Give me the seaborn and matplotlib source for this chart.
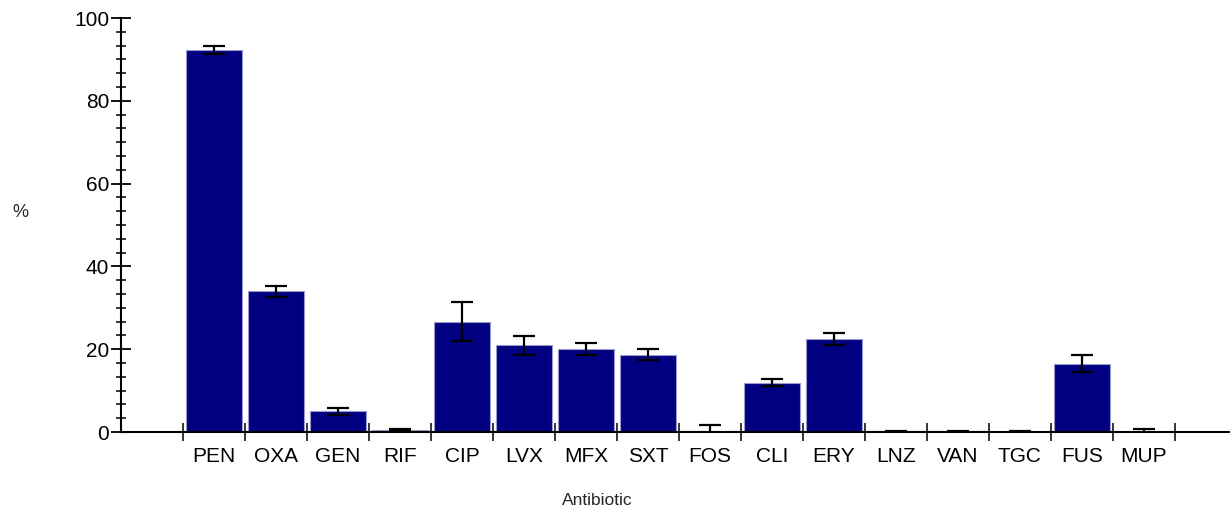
import matplotlib
matplotlib.use('Agg')
import matplotlib.pyplot as plt
import numpy as np
import pandas as pd
import seaborn as sns
from matplotlib.ticker import MultipleLocator

# Resistance per antibiotic (% with error)
antibiotics = ['PEN', 'OXA', 'GEN', 'RIF', 'CIP', 'LVX', 'MFX', 'SXT',
               'FOS', 'CLI', 'ERY', 'LNZ', 'VAN', 'TGC', 'FUS', 'MUP']
percent = [92.2, 34.0, 5.0, 0.5, 26.6, 21.0, 20.1, 18.7,
           0.3, 11.9, 22.4, 0.2, 0.2, 0.05, 16.5, 0.1]
err = [1.0, 1.3, 0.8, 0.3, 4.7, 2.3, 1.4, 1.4,
       1.3, 0.8, 1.5, 0.15, 0.15, 0.15, 2.0, 0.6]

df = pd.DataFrame({'Antibiotic': antibiotics, 'pct': percent, 'err': err})

sns.set_style('white')
plt.rcParams['font.family'] = ['Liberation Sans', 'DejaVu Sans']

fig = plt.figure(figsize=(12.3, 5.12), dpi=100)
ax = fig.add_axes([121 / 1230, 80 / 512, 1 - 121 / 1230, 414 / 512])

sns.barplot(data=df, x='Antibiotic', y='pct', color='#000080', saturation=1,
            width=0.9, edgecolor='#9a9ad0', linewidth=0.8, errorbar=None, ax=ax)
ax.errorbar(np.arange(len(antibiotics)), df['pct'], yerr=df['err'], fmt='none',
            ecolor='black', elinewidth=1.6, capsize=8, capthick=1.6, zorder=3)

ax.set_ylim(0, 100)
ax.set_xlim(-1.5, 16.39)
sns.despine(ax=ax)
for s in ['left', 'bottom']:
    ax.spines[s].set_linewidth(1.5)
    ax.spines[s].set_color('black')

ax.yaxis.set_major_locator(MultipleLocator(20))
ax.yaxis.set_minor_locator(MultipleLocator(20 / 6))
ax.tick_params(axis='y', which='major', direction='inout', length=14,
               width=1.3, pad=1.5, labelsize=15, colors='black', left=True)
ax.tick_params(axis='y', which='minor', direction='inout', length=6.5,
               width=1.3, left=True)

# boundaries get the tick marks, centres get the labels
ax.set_xticks(np.arange(-0.5, len(antibiotics), 1))
ax.set_xticklabels([])
ax.set_xticks(np.arange(len(antibiotics)), minor=True)
ax.set_xticklabels(antibiotics, minor=True)
ax.tick_params(axis='x', which='major', direction='inout', length=13,
               width=1.3, bottom=True)
ax.tick_params(axis='x', which='minor', length=0, pad=11, labelsize=15,
               colors='black')

ax.set_xlabel('Antibiotic', fontsize=12.5)
ax.set_ylabel('%', fontsize=13, rotation=0)
ax.xaxis.set_label_coords((597 - 121) / 1109, -0.148)
ax.yaxis.set_label_coords((20 - 121) / 1109, (432 - 221) / 414)

fig.savefig('out.png', dpi=100)
